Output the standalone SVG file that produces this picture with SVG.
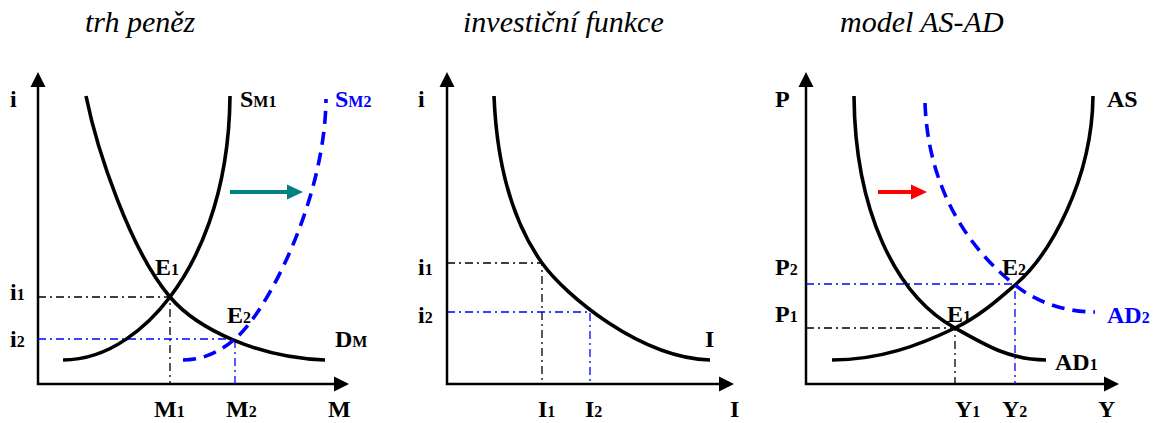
<svg xmlns="http://www.w3.org/2000/svg" width="1156" height="423" viewBox="0 0 1156 423">
<style>
.title{font-family:"Liberation Serif","Times New Roman",Times,serif;font-style:italic;font-size:30px;fill:#000}
.lb{font-family:"Liberation Serif","Times New Roman",Times,serif;font-weight:bold;font-size:24px;fill:#000}
.sub{font-size:16px}
.blue{fill:#0000ff}
.axis{stroke:#000;stroke-width:2.5;fill:none}
.curve{stroke:#000;stroke-width:3.6;fill:none}
.dcurve{stroke:#0000ff;stroke-width:3.6;fill:none;stroke-dasharray:13 8}
.dd{stroke:#000;stroke-width:1.3;fill:none;stroke-dasharray:8 4 2 4}
.ddb{stroke:#0000ff;stroke-width:1.3;fill:none;stroke-dasharray:8 4 2 4}
</style>
<rect width="1156" height="423" fill="#fff"/>
<g id="titles">
<text class="title" x="85" y="32">trh peněz</text>
<text class="title" x="463" y="32">investiční funkce</text>
<text class="title" x="840" y="32">model AS-AD</text>
</g>
<g id="panel-money">
<g id="axes-money">
<path class="axis" d="M38,86 V384 H336"/>
<path d="M38,72 L30.5,87 L45.5,87 Z" fill="#000"/>
<path d="M349,384 L334,376.5 L334,391.5 Z" fill="#000"/>
</g>
<g id="guides-money">
<path class="dd" d="M38,297 H170 V384"/>
<path class="ddb" d="M38,339 H235 V384"/>
</g>
<g id="curves-money">
<path id="DM" class="curve" d="M86,96 C97,150 130,250 170,297 C198,330 260,358 325,360"/>
<path id="SM1" class="curve" d="M63,360 C110,360 148,326 170,297 C195,264 229,200 230,96"/>
<path id="SM2" class="dcurve" d="M183,360 C205,360 222,350 235,339 C267,312 325,200 326,99"/>
<path id="shift-money" d="M230,192 H290" stroke="#008080" stroke-width="4" fill="none"/>
<path d="M303,192 L287,184.5 L287,199.5 Z" fill="#008080"/>
</g>
<g id="labels-money">
<text class="lb" x="10" y="107">i</text>
<text class="lb" x="10" y="300">i<tspan class="sub">1</tspan></text>
<text class="lb" x="10" y="347">i<tspan class="sub">2</tspan></text>
<text class="lb" x="240" y="107">S<tspan class="sub">M1</tspan></text>
<text class="lb blue" x="335" y="107">S<tspan class="sub">M2</tspan></text>
<text class="lb" x="335" y="347">D<tspan class="sub">M</tspan></text>
<text class="lb" x="155" y="275">E<tspan class="sub">1</tspan></text>
<text class="lb" x="227" y="323">E<tspan class="sub">2</tspan></text>
<text class="lb" x="154" y="417">M<tspan class="sub">1</tspan></text>
<text class="lb" x="226" y="417">M<tspan class="sub">2</tspan></text>
<text class="lb" x="328" y="417">M</text>
</g>
</g>
<g id="panel-investment">
<g id="axes-investment">
<path class="axis" d="M447,86 V384 H720"/>
<path d="M447,72 L439.5,87 L454.5,87 Z" fill="#000"/>
<path d="M734,384 L719,376.5 L719,391.5 Z" fill="#000"/>
</g>
<g id="guides-investment">
<path class="dd" d="M447,263 H542 V384"/>
<path class="ddb" d="M447,312 H590 V384"/>
</g>
<path id="I-curve" class="curve" d="M494,96 C497,170 515,225 542,263 C565,295 640,358 710,360"/>
<g id="labels-investment">
<text class="lb" x="418" y="107">i</text>
<text class="lb" x="418" y="275">i<tspan class="sub">1</tspan></text>
<text class="lb" x="418" y="323">i<tspan class="sub">2</tspan></text>
<text class="lb" x="705" y="347">I</text>
<text class="lb" x="538" y="417">I<tspan class="sub">1</tspan></text>
<text class="lb" x="585" y="417">I<tspan class="sub">2</tspan></text>
<text class="lb" x="730" y="417">I</text>
</g>
</g>
<g id="panel-asad">
<g id="axes-asad">
<path class="axis" d="M806,86 V384 H1105"/>
<path d="M806,72 L798.5,87 L813.5,87 Z" fill="#000"/>
<path d="M1119,384 L1104,376.5 L1104,391.5 Z" fill="#000"/>
</g>
<g id="guides-asad">
<path class="dd" d="M806,328 H955 V384"/>
<path class="ddb" d="M806,284 H1015 V384"/>
</g>
<g id="curves-asad">
<path id="AS" class="curve" d="M832,360 C880,360 920,345 955,328 C980,316 1000,298 1015,285 C1050,255 1092,180 1093,96"/>
<path id="AD1" class="curve" d="M854,96 C855,210 895,295 955,328 C985,345 1010,360 1046,360"/>
<path id="AD2" class="dcurve" d="M925,103 C928,190 970,250 1015,285 C1040,305 1070,312 1095,312"/>
<path id="shift-asad" d="M878,192 H913" stroke="#ff0000" stroke-width="4" fill="none"/>
<path d="M927,192 L911,184.5 L911,199.5 Z" fill="#ff0000"/>
</g>
<g id="labels-asad">
<text class="lb" x="775" y="107">P</text>
<text class="lb" x="775" y="275">P<tspan class="sub">2</tspan></text>
<text class="lb" x="775" y="322">P<tspan class="sub">1</tspan></text>
<text class="lb" x="1002" y="275">E<tspan class="sub">2</tspan></text>
<text class="lb" x="947" y="322">E<tspan class="sub">1</tspan></text>
<text class="lb" x="1107" y="107">AS</text>
<text class="lb blue" x="1107" y="323">AD<tspan class="sub">2</tspan></text>
<text class="lb" x="1055" y="370">AD<tspan class="sub">1</tspan></text>
<text class="lb" x="955" y="417">Y<tspan class="sub">1</tspan></text>
<text class="lb" x="1002" y="417">Y<tspan class="sub">2</tspan></text>
<text class="lb" x="1098" y="417">Y</text>
</g>
</g>
</svg>
